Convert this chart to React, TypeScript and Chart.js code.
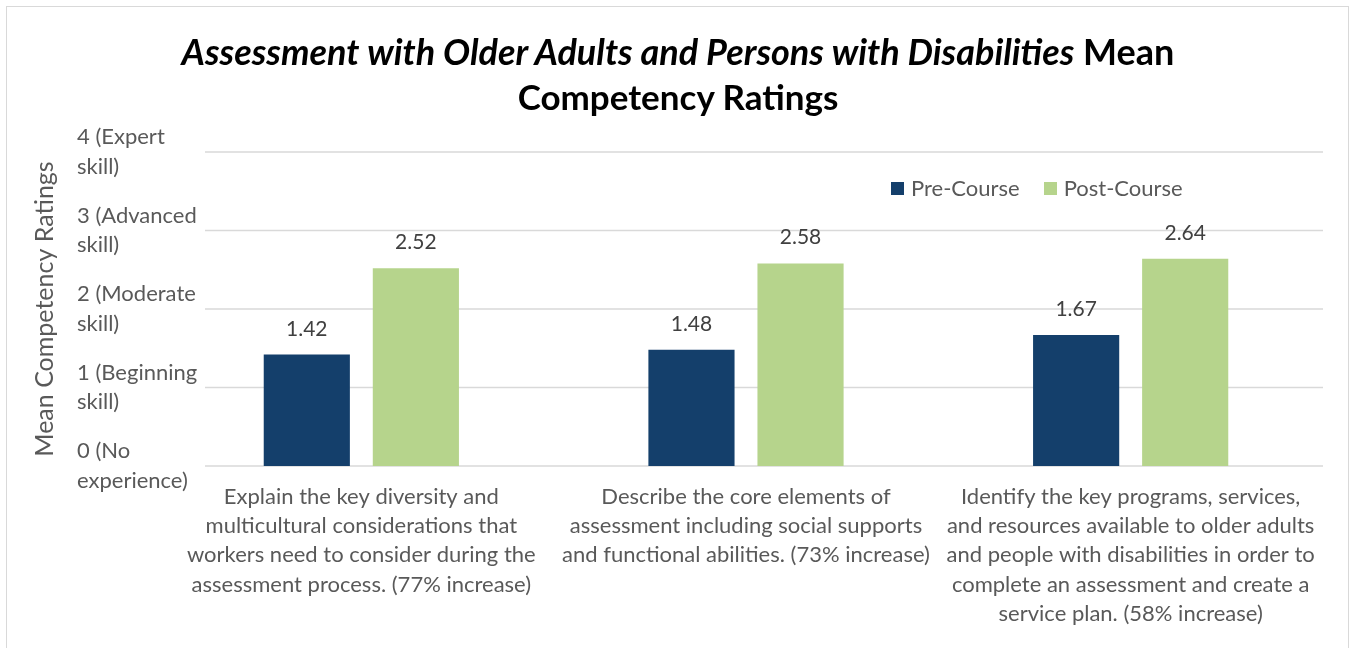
import React, { useEffect, useRef } from "react";
import { Chart, registerables } from "chart.js";

Chart.register(...registerables);

const FONT = "Lato, 'Open Sans', sans-serif";

const categories: string[][] = [
  ["Explain the key diversity and", "multicultural considerations that", "workers need to consider during the", "assessment process. (77% increase)"],
  ["Describe the core elements of", "assessment including social supports", "and functional abilities. (73% increase)"],
  ["Identify the key programs, services,", "and resources available to older adults", "and people with disabilities in order to", "complete an assessment and create a", "service plan. (58% increase)"],
];
const seriesNames = ["Pre-Course", "Post-Course"];
const preCourse = [1.42, 1.48, 1.67];
const postCourse = [2.52, 2.58, 2.64];
const seriesColors = ["#143f6b", "#b6d48c"];
const yTickLabels: string[][] = [
  ["0 (No", "experience)"],
  ["1 (Beginning", "skill)"],
  ["2 (Moderate", "skill)"],
  ["3 (Advanced", "skill)"],
  ["4 (Expert", "skill)"],
];
const yAxisTitle = "Mean Competency Ratings";
const titleItalic = "Assessment with Older Adults and Persons with Disabilities";
const titleRest = " Mean";
const titleLine2 = "Competency Ratings";

const gridPlugin = {
  id: "hgrid",
  beforeDatasetsDraw(chart: any) {
    const { ctx, chartArea, scales } = chart;
    const y = scales.y;
    ctx.save();
    ctx.strokeStyle = "#d9d9d9";
    ctx.lineWidth = 1.5;
    y.ticks.forEach((t: any) => {
      const py = y.getPixelForValue(t.value);
      ctx.beginPath();
      ctx.moveTo(chartArea.left + 36, py);
      ctx.lineTo(chartArea.right, py);
      ctx.stroke();
    });
    ctx.restore();
  },
};

const valueLabelPlugin = {
  id: "valueLabels",
  afterDatasetsDraw(chart: any) {
    const { ctx } = chart;
    ctx.save();
    ctx.font = `21px ${FONT}`;
    ctx.fillStyle = "#404040";
    ctx.textAlign = "center";
    ctx.textBaseline = "alphabetic";
    chart.data.datasets.forEach((ds: any, i: number) => {
      const meta = chart.getDatasetMeta(i);
      meta.data.forEach((bar: any, j: number) => {
        ctx.fillText(Number(ds.data[j]).toFixed(2), bar.x, bar.y - 19);
      });
    });
    ctx.restore();
  },
};

export default function App() {
  const ref = useRef<HTMLCanvasElement | null>(null);

  useEffect(() => {
    if (!ref.current) return;
    const chart = new Chart(ref.current, {
      type: "bar",
      data: {
        labels: categories as any,
        datasets: [
          { label: seriesNames[0], data: preCourse, backgroundColor: seriesColors[0], barPercentage: 0.79, categoryPercentage: 0.567 },
          { label: seriesNames[1], data: postCourse, backgroundColor: seriesColors[1], barPercentage: 0.79, categoryPercentage: 0.567 },
        ],
      },
      options: {
        responsive: false,
        animation: false,
        layout: { padding: { left: 20, top: 152, right: 30, bottom: 0 } },
        plugins: {
          legend: { display: false },
          title: { display: false },
          tooltip: { enabled: false },
        },
        scales: {
          x: {
            grid: { display: false, drawTicks: false },
            border: { display: false },
            ticks: {
              color: "#595959",
              font: { family: FONT, size: 22, lineHeight: 1.33 },
              padding: 16,
              maxRotation: 0,
              autoSkip: false,
            },
            afterFit: (s: any) => { s.height = 182; },
          },
          y: {
            min: 0,
            max: 4,
            grid: { display: false, drawTicks: false },
            border: { display: false },
            ticks: {
              stepSize: 1,
              crossAlign: "far",
              color: "#595959",
              font: { family: FONT, size: 22, lineHeight: 1.33 },
              padding: 0,
              callback: (v: any) => yTickLabels[Number(v)] ?? "",
            },
            afterFit: (s: any) => {
              s.width = 92;
              s._computeLabelArea = () => undefined;
            },
          },
          yTitle: {
            type: "linear",
            position: "left",
            weight: 10,
            display: true,
            ticks: { display: false },
            grid: { display: false, drawTicks: false },
            border: { display: false },
            title: {
              display: true,
              text: yAxisTitle,
              color: "#595959",
              font: { family: FONT, size: 25, lineHeight: 1.2 },
              padding: { top: 10, bottom: 0 },
            },
            afterFit: (s: any) => { s.width = 57; },
          },
        } as any,
      },
      plugins: [gridPlugin, valueLabelPlugin],
    });
    return () => chart.destroy();
  }, []);

  const legendItem = (name: string, color: string) => (
    <div style={{ display: "flex", alignItems: "center" }}>
      <span style={{ display: "inline-block", width: 13, height: 13, background: color, marginRight: 7 }} />
      <span>{name}</span>
    </div>
  );

  return (
    <div style={{ position: "fixed", left: 0, top: 0, width: 1353, height: 648, background: "#fff", overflow: "hidden" }}>
      <div style={{ position: "absolute", left: 6, top: 6, width: 1343, height: 700, border: "1px solid #d9d9d9", boxSizing: "border-box" }} />
      <canvas ref={ref} width={1353} height={648} style={{ position: "absolute", left: 0, top: 0, width: 1353, height: 648 }} />
      <div style={{ position: "absolute", left: 0, top: 29, width: 1356, textAlign: "center", fontFamily: FONT, fontWeight: 700, fontSize: 36, lineHeight: "45px", color: "#000" }}>
        <div><i>{titleItalic}</i>{titleRest}</div>
        <div style={{ fontSize: 35 }}>{titleLine2}</div>
      </div>
      <div style={{ position: "absolute", left: 891, top: 174, display: "flex", gap: 24, fontFamily: FONT, fontSize: 22, lineHeight: "28px", color: "#595959" }}>
        {legendItem(seriesNames[0], seriesColors[0])}
        {legendItem(seriesNames[1], seriesColors[1])}
      </div>
    </div>
  );
}
